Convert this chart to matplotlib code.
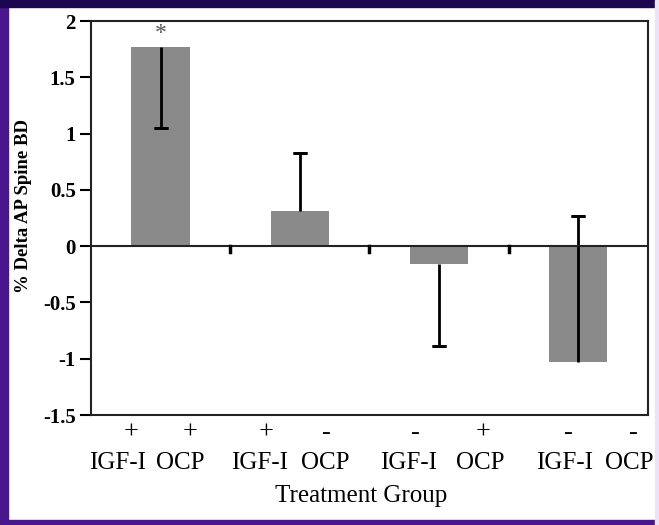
import numpy as np
import matplotlib.pyplot as plt
from matplotlib.patches import Rectangle
from matplotlib.transforms import blended_transform_factory

# данные
groups = [0, 1, 2, 3]
values = [1.77, 0.31, -0.16, -1.03]
err_low = [0.72, 0.0, 0.73, 0.0]
err_high = [0.0, 0.52, 0.0, 1.30]
igf = ['+', '+', '-', '-']
ocp = ['+', '-', '+', '-']
igf_off = [-0.31, -0.29, -0.22, -0.10]
ocp_off = [0.14, 0.18, 0.30, 0.37]
igf_sign_off = [-0.21, -0.24, -0.17, -0.07]
ocp_sign_off = [0.21, 0.19, 0.32, 0.40]
yticks = [-1.5, -1, -0.5, 0, 0.5, 1, 1.5, 2]
ytick_labels = ['-1.5', '-1', '-0.5', '0', '0.5', '1', '1.5', '2']

plt.rcParams['font.family'] = ['Liberation Serif', 'DejaVu Serif']

fig = plt.figure(figsize=(6.59, 5.25), dpi=100)
ax = fig.add_axes([0.138, 0.2095, 0.845, 0.7505])

ax.bar(groups, values, width=0.42, color='#8a8a8a', zorder=2)
# усы только в одну сторону
for g in groups:
    lo, hi = err_low[g], err_high[g]
    if lo > 0:
        ax.errorbar(g, values[g], yerr=[[lo], [0]], fmt='none', ecolor='black',
                    elinewidth=2, capsize=0, zorder=3)
        ax.errorbar(g, values[g] - lo, yerr=0, fmt='none', ecolor='black',
                    elinewidth=2, capsize=5, capthick=2, zorder=3)
    if hi > 0:
        ax.errorbar(g, values[g], yerr=[[0], [hi]], fmt='none', ecolor='black',
                    elinewidth=2, capsize=0, zorder=3)
        ax.errorbar(g, values[g] + hi, yerr=0, fmt='none', ecolor='black',
                    elinewidth=2, capsize=5, capthick=2, zorder=3)
ax.axhline(0, color='#222222', lw=1.5, zorder=4)
for b in [0.5, 1.5, 2.5]:
    ax.plot([b, b], [0, -0.05], color='black', lw=2.5, zorder=4)

ax.text(0, 1.80, '*', ha='center', va='bottom', fontsize=17, color='#555555')

ax.set_xlim(-0.5, 3.5)
ax.set_ylim(-1.5, 2)
ax.set_yticks(yticks)
ax.set_yticklabels(ytick_labels, fontsize=15, fontweight='bold')
ax.set_xticks([])
ax.tick_params(axis='y', direction='out', length=8, width=1.5, pad=3)
for s in ax.spines.values():
    s.set_linewidth(1.5)
    s.set_color('#222222')
ax.set_ylabel('% Delta AP Spine BD', fontsize=13.5, fontweight='bold')
ax.yaxis.set_label_coords(-0.106, 0.53)

tr = blended_transform_factory(ax.transData, fig.transFigure)
for g in groups:
    ax.text(g + igf_sign_off[g], 1 - 433 / 525, igf[g], transform=tr,
            ha='center', va='center', fontsize=19)
    ax.text(g + ocp_sign_off[g], 1 - 433 / 525, ocp[g], transform=tr,
            ha='center', va='center', fontsize=19)
    ax.text(g + igf_off[g], 1 - 463 / 525, 'IGF-I', transform=tr,
            ha='center', va='center', fontsize=18)
    ax.text(g + ocp_off[g], 1 - 463 / 525, 'OCP', transform=tr,
            ha='center', va='center', fontsize=18)
fig.text(361 / 659, 1 - 496 / 525, 'Treatment Group', ha='center', va='center',
         fontsize=18)

# рамка
fig.patches.append(Rectangle((0, 0), 8 / 659, 1, transform=fig.transFigure,
                             color='#4a168e'))
fig.patches.append(Rectangle((0, 0), 1, 5 / 525, transform=fig.transFigure,
                             color='#4a168e'))
fig.patches.append(Rectangle((0, 1 - 7 / 525), 1, 7 / 525, transform=fig.transFigure,
                             color='#1c0650'))
fig.patches.append(Rectangle((655 / 659, 0), 4 / 659, 1, transform=fig.transFigure,
                             color='#ece4f4'))

fig.savefig('out.png', dpi=100)
